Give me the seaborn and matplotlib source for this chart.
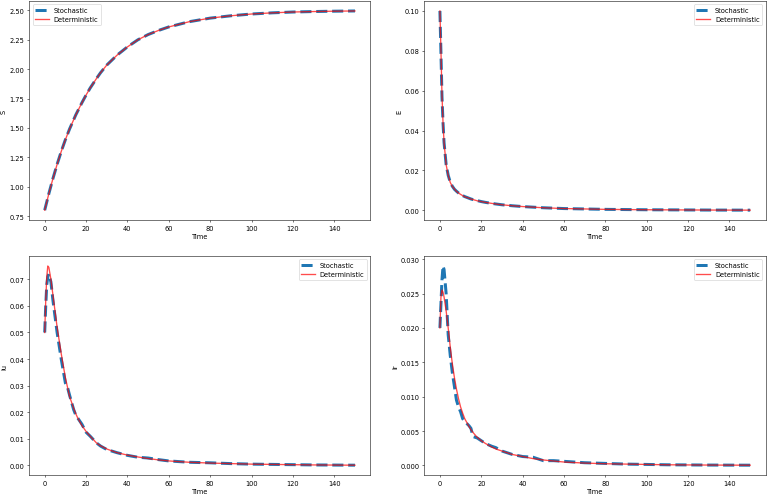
import numpy as np
import pandas as pd
import matplotlib
matplotlib.use("Agg")
import matplotlib.pyplot as plt
import seaborn as sns

# time grid shared by all series
time = [0, 0.5, 1, 1.5, 2, 3, 4, 5, 6, 7, 8, 9, 10, 11, 12, 14, 15, 16, 18, 20,
        22, 25, 27, 30, 35, 40, 45, 50, 55, 60, 70, 80, 90, 100, 110, 120, 130, 140, 150]

S_det = [0.80, 0.835, 0.87, 0.905, 0.94, 1.005, 1.07, 1.13, 1.19, 1.245, 1.30, 1.35, 1.40, 1.445, 1.49,
         1.57, 1.61, 1.645, 1.715, 1.78, 1.84, 1.92, 1.97, 2.035, 2.12, 2.19, 2.25, 2.295, 2.33, 2.36,
         2.405, 2.435, 2.455, 2.47, 2.48, 2.487, 2.491, 2.494, 2.496]
S_sto = [0.80, 0.835, 0.87, 0.905, 0.94, 1.005, 1.07, 1.13, 1.19, 1.245, 1.30, 1.35, 1.40, 1.445, 1.49,
         1.57, 1.61, 1.645, 1.715, 1.78, 1.84, 1.92, 1.97, 2.035, 2.12, 2.19, 2.25, 2.295, 2.33, 2.36,
         2.405, 2.435, 2.455, 2.47, 2.48, 2.487, 2.491, 2.494, 2.496]

E_det = [0.100, 0.080, 0.058, 0.044, 0.034, 0.023, 0.0175, 0.0140, 0.0120, 0.0107, 0.0095, 0.0087, 0.0080,
         0.0074, 0.0068, 0.0061, 0.0057, 0.0054, 0.0048, 0.0044, 0.0040, 0.0035, 0.0032, 0.0028, 0.0023,
         0.0019, 0.0016, 0.0013, 0.0011, 0.0009, 0.0007, 0.0005, 0.0004, 0.0003, 0.00025, 0.0002, 0.00015,
         0.00012, 0.0001]
E_sto = [0.100, 0.079, 0.057, 0.044, 0.034, 0.023, 0.0176, 0.0141, 0.0121, 0.0106, 0.0096, 0.0087, 0.0079,
         0.0074, 0.0069, 0.0061, 0.0057, 0.0054, 0.0049, 0.0044, 0.0040, 0.0035, 0.0032, 0.0028, 0.0023,
         0.0019, 0.0016, 0.0013, 0.0011, 0.0009, 0.0007, 0.0005, 0.0004, 0.0003, 0.00025, 0.0002, 0.00015,
         0.00012, 0.0001]

Iu_det = [0.050, 0.062, 0.071, 0.075, 0.0745, 0.070, 0.064, 0.058, 0.052, 0.047, 0.042, 0.0375, 0.033,
          0.0295, 0.026, 0.0215, 0.0195, 0.0178, 0.015, 0.0128, 0.011, 0.0085, 0.0074, 0.0062, 0.0048,
          0.0039, 0.0032, 0.0026, 0.0021, 0.0017, 0.0012, 0.0009, 0.0007, 0.0005, 0.0004, 0.0003, 0.0002,
          0.00015, 0.0001]
Iu_sto = [0.050, 0.060, 0.068, 0.071, 0.072, 0.069, 0.062, 0.056, 0.050, 0.045, 0.040, 0.0355, 0.031,
          0.0295, 0.0265, 0.021, 0.019, 0.0178, 0.0155, 0.0125, 0.011, 0.0085, 0.0073, 0.006, 0.0048,
          0.0038, 0.0031, 0.0028, 0.0022, 0.0017, 0.0012, 0.0010, 0.0007, 0.0005, 0.0004, 0.0003, 0.0002,
          0.00015, 0.0001]

Ir_det = [0.020, 0.0245, 0.0255, 0.0252, 0.0245, 0.0225, 0.0200, 0.0172, 0.0148, 0.0128, 0.0111, 0.0097,
          0.0085, 0.0076, 0.0068, 0.0057, 0.0052, 0.0048, 0.0041, 0.0036, 0.0032, 0.0027, 0.0024, 0.0021,
          0.0016, 0.0013, 0.0010, 0.0008, 0.00065, 0.0005, 0.00035, 0.00025, 0.0002, 0.00015, 0.0001,
          0.00008, 0.00006, 0.00005, 0.00004]
Ir_sto = [0.020, 0.0235, 0.027, 0.029, 0.0285, 0.025, 0.019, 0.016, 0.0135, 0.0115, 0.0095, 0.0085,
          0.0078, 0.0068, 0.0064, 0.0058, 0.0054, 0.0042, 0.0040, 0.0036, 0.0032, 0.0028, 0.0026, 0.0021,
          0.0016, 0.0013, 0.0012, 0.0007, 0.0007, 0.0006, 0.0004, 0.0003, 0.0002, 0.00015, 0.0001,
          0.00008, 0.00006, 0.00005, 0.00004]

panels = [("S", S_sto, S_det, "upper left"),
          ("E", E_sto, E_det, "upper right"),
          ("Iu", Iu_sto, Iu_det, "upper right"),
          ("Ir", Ir_sto, Ir_det, "upper right")]

fig, axes = plt.subplots(2, 2, figsize=(16, 10.333), dpi=48)

for ax, (name, sto, det, loc) in zip(axes.flat, panels):
    df = pd.DataFrame({"Time": time, "sto": sto, "det": det})
    sns.lineplot(data=df, x="Time", y="sto", ax=ax, color="#1f77b4", linestyle="--",
                 dashes=(2.6, 1.3), linewidth=4.5, label="Stochastic")
    sns.lineplot(data=df, x="Time", y="det", ax=ax, color="red", alpha=0.7,
                 linewidth=2, label="Deterministic")
    ax.set_xlabel("Time")
    ax.set_ylabel(name)
    ax.legend(loc=loc)

plt.subplots_adjust(left=0.038, right=0.997, top=0.996, bottom=0.040, wspace=0.158, hspace=0.164)
plt.savefig("out.png", dpi=48)
